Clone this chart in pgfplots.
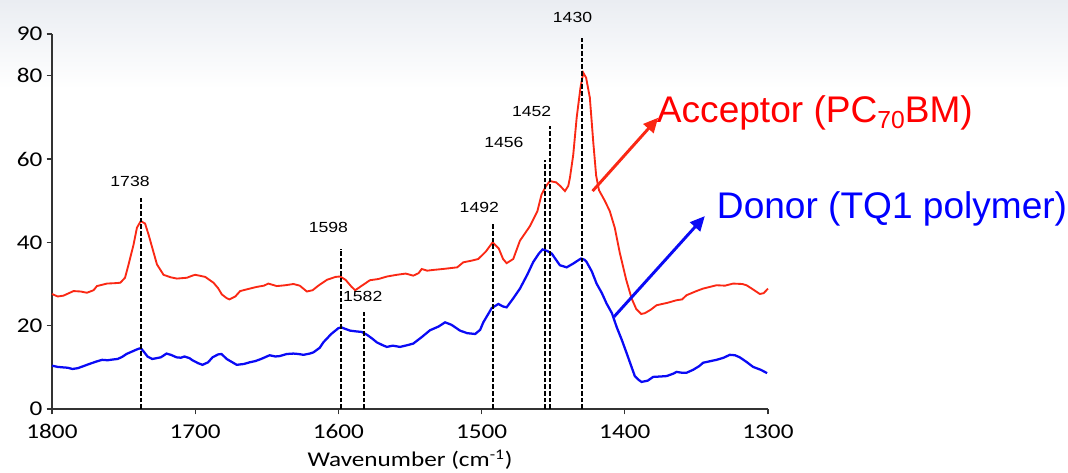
\documentclass[border=0pt]{standalone}
\usepackage{pgfplots}
\pgfplotsset{compat=1.18}
\usepackage{fontspec}
\setmainfont{Carlito}[FakeStretch=1.2]
\newfontfamily\peakfont{Liberation Sans}[FakeStretch=1.2]
\newfontfamily\notefont{Liberation Sans}
\usetikzlibrary{arrows.meta}
\definecolor{accred}{RGB}{250,40,20}
\definecolor{donblue}{RGB}{10,10,245}
\definecolor{slidetop}{RGB}{234,237,242}
\tikzset{
  peakline/.style={black, line width=1.4pt, dash pattern=on 3.5pt off 1.5pt},
  peaklabel/.style={font=\peakfont\fontsize{11}{12}\selectfont, inner sep=0pt},
}

\begin{document}
\begin{tikzpicture}
% faint slide background at the top
\shade[top color=slidetop, bottom color=white, draw=none] (-39pt,240pt) rectangle (762pt,306.75pt);
\begin{axis}[
    at={(0,0)}, anchor=south west,
    width=537pt, height=281.25pt, scale only axis,
    x dir=reverse,
    xmin=1300, xmax=1800, ymin=0, ymax=90,
    axis lines*=left,
    axis line style={black!80, line width=0.9pt},
    xtick={1300,1400,1500,1600,1700,1800},
    ytick={0,20,40,60,80,90},
    tick align=outside,
    major tick length=4pt,
    tick style={black!80, line width=0.9pt},
    /pgf/number format/assume math mode=true,
    /pgf/number format/1000 sep={},
    tick label style={font=\fontsize{15.75}{18}\selectfont},
    xticklabel style={anchor=base, inner sep=0pt, yshift=-18.5pt},
    yticklabel style={anchor=east, inner sep=0pt, xshift=-3pt},
    xlabel={Wavenumber (cm\textsuperscript{-1})},
    xlabel style={font=\fontsize{15.75}{18}\selectfont, at={(rel axis cs:0.5,0)}, anchor=base, inner sep=0pt, yshift=-43.3pt},
    clip=false,
]
% acceptor (PC70BM)
\addplot[accred, line width=1.4pt] coordinates {
(1800,27.6) (1796,27.0) (1792,27.2) (1785,28.3) (1780,28.2) (1775.6,27.9) (1771,28.5)
(1768.6,29.5) (1761.6,30.1) (1756,30.2) (1752.3,30.3) (1749,31.5) (1746.5,34.7)
(1743,39.5) (1740.7,43.5) (1738,45.1) (1735,44.5) (1732.6,41.9) (1729,37.5)
(1726.7,34.7) (1722.1,32.2) (1717,31.6) (1712.8,31.3) (1705.8,31.5) (1702,32.0)
(1700,32.2) (1697,32.0) (1693,31.7) (1687.2,30.3) (1684,29.0) (1681.4,27.5)
(1678,26.6) (1676.1,26.3) (1672,27.0) (1668.6,28.3) (1663,28.8) (1657,29.3)
(1652,29.6) (1648.9,30.1) (1643,29.5) (1637,29.7) (1631.4,30.0) (1627,29.6)
(1622,28.2) (1618,28.5) (1614,29.6) (1608,31.0) (1602,31.7) (1598.8,31.8)
(1595,31.0) (1591,29.4) (1588.3,28.5) (1584,29.5) (1578,30.9) (1572,31.2)
(1566,31.8) (1559.3,32.2) (1553,32.5) (1547.7,32.0) (1544,32.6) (1541.8,33.6)
(1538,33.2) (1533,33.4) (1527,33.6) (1522,33.8) (1517,34.0) (1512.8,35.2)
(1507,35.6) (1502.3,36.0) (1497,37.8) (1492.3,40.0) (1488,38.5) (1485,36.0)
(1482.5,35.0) (1477.9,36.0) (1473.2,40.4) (1466.2,43.9) (1461,47.5) (1458.1,51.5)
(1455,53.5) (1452.3,54.7) (1448,54.4) (1445,53.5) (1441.8,52.3) (1439.5,53.5)
(1438.3,55.5) (1436,61.0) (1433.6,69.9) (1431,77.0) (1429,80.7) (1427,79.5)
(1424.4,74.7) (1422,64.0) (1420,56.0) (1418,52.5) (1414,50.0) (1410.5,47.5)
(1407,43.5) (1403.5,37.5) (1399,31.0) (1395.2,26.5) (1392,24.0) (1388.5,22.8)
(1386,23.0) (1382,23.8) (1377.8,24.9) (1370,25.5) (1363.9,26.1) (1360,26.3)
(1356.9,27.3) (1350,28.3) (1345.3,28.9) (1336,29.7) (1330,29.6) (1324.4,30.1)
(1318,30.0) (1315,29.7) (1310,28.6) (1305.7,27.6) (1303,27.8) (1300,28.9)
};
% donor (TQ1 polymer)
\addplot[donblue, line width=1.7pt] coordinates {
(1800,10.4) (1796,10.1) (1792.7,10.0) (1789,9.9) (1785.7,9.6) (1782,9.8) (1778.7,10.2)
(1774,10.8) (1768.9,11.4) (1765,11.8) (1761.2,11.7) (1757,11.9) (1754.2,12.0)
(1751,12.5) (1748,13.2) (1744,13.8) (1740,14.4) (1738,14.6) (1736,13.8) (1733.3,12.6)
(1730,12.0) (1727,12.2) (1724,12.4) (1720,13.3) (1717,13.0) (1713,12.4) (1710,12.3)
(1707.5,12.6) (1704,12.2) (1701.9,11.7) (1698,11.0) (1694.9,10.6) (1691,11.2)
(1687.9,12.4) (1684,13.1) (1681.6,13.2) (1678,12.0) (1674,11.2) (1671,10.6)
(1666,10.8) (1662,11.2) (1658,11.5) (1654,12.0) (1648,12.9) (1644,12.6) (1641,12.7)
(1636,13.2) (1631.4,13.3) (1628,13.2) (1624.4,13.0) (1620,13.3) (1617.4,13.6)
(1613,14.7) (1610.5,16.0) (1605,18.0) (1600,19.4) (1598,19.6) (1595,19.2)
(1591.8,18.8) (1587,18.6) (1583.7,18.5) (1580,17.8) (1576,16.8) (1573.2,16.0)
(1569,15.3) (1566.2,14.9) (1562,15.2) (1557,14.9) (1552,15.3) (1547.7,15.7)
(1542,17.2) (1536,18.9) (1530,19.8) (1525.5,20.8) (1521,20.2) (1515,18.8)
(1510,18.2) (1504.5,18.0) (1501,19.0) (1498.8,20.8) (1495,23.0) (1493,24.2)
(1488.3,25.2) (1485,24.6) (1482.5,24.4) (1478,26.5) (1473.2,28.9) (1468,32.3)
(1463.9,35.3) (1460,37.3) (1457.4,38.3) (1454,37.9) (1451,37.3) (1448,35.8)
(1445.3,34.5) (1440.6,34.0) (1436,34.9) (1432,35.8) (1430.6,36.1) (1428,35.8)
(1426.7,35.3) (1423,33.0) (1419.7,30.1) (1416,27.8) (1412.7,25.3) (1409,23.0)
(1405.7,19.7) (1402,16.5) (1398.7,13.4) (1395.5,10.3) (1393,7.9) (1390,6.9)
(1388.3,6.5) (1384,6.8) (1380.2,7.7) (1375,7.8) (1370.8,7.9) (1366,8.5) (1363.9,8.9)
(1360,8.7) (1356.9,8.7) (1352.3,9.4) (1348,10.3) (1345.3,11.1) (1340,11.5)
(1335.9,11.8) (1331,12.3) (1326.7,13.0) (1323,12.9) (1319.7,12.4) (1315,11.3)
(1310.4,10.1) (1305,9.4) (1300.6,8.6)
};
% peak markers
\addplot[peakline] coordinates {(1738,0) (1738,50.6)};
\addplot[peakline] coordinates {(1598,0) (1598,38.5)};
\addplot[peakline] coordinates {(1582,0) (1582,23.2)};
\addplot[peakline] coordinates {(1492,0) (1492,44.5)};
\addplot[peakline] coordinates {(1456,0) (1456,59.7)};
\addplot[peakline] coordinates {(1452,0) (1452,67.9)};
\addplot[peakline] coordinates {(1430,0) (1430,89.3)};
\node[peaklabel] at (axis cs:1745.5,54.6) {1738};
\node[peaklabel] at (axis cs:1607,43.6) {1598};
\node[peaklabel] at (axis cs:1583,26.9) {1582};
\node[peaklabel] at (axis cs:1501.6,48.4) {1492};
\node[peaklabel] at (axis cs:1484.4,63.9) {1456};
\node[peaklabel] at (axis cs:1465,71.5) {1452};
\node[peaklabel] at (axis cs:1436.5,93.9) {1430};
% annotations
\draw[accred, line width=2.2pt, -{Triangle[length=11pt,width=10pt]}]
  (axis cs:1422.5,52.3) -- (axis cs:1376.7,69.9);
\draw[donblue, line width=2.2pt, -{Triangle[length=11pt,width=10pt]}]
  (axis cs:1407.6,22.1) -- (axis cs:1344.1,46.3);
\node[anchor=base west, inner sep=0pt, text=red, font=\notefont\fontsize{27.8}{30}\selectfont]
  at (axis cs:1377.7,68.7) {Acceptor (PC\raisebox{-4.5pt}{\fontsize{18.5}{18.5}\selectfont 70}BM)};
\node[anchor=base west, inner sep=0pt, text=blue, font=\notefont\fontsize{27.8}{30}\selectfont]
  at (axis cs:1335.8,45.8) {Donor (TQ1 polymer)};
\end{axis}
\pgfresetboundingbox
\path[use as bounding box] (-39pt,-48pt) rectangle (762pt,306.75pt);
\end{tikzpicture}
\end{document}
